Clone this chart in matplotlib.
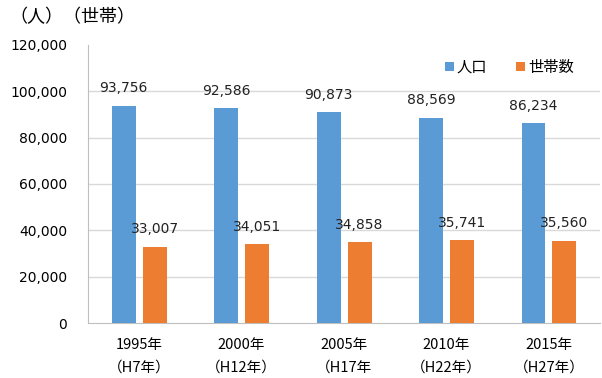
import numpy as np
import matplotlib
matplotlib.use("Agg")
import matplotlib.pyplot as plt

plt.rcParams['font.family'] = ['DejaVu Sans', 'Noto Sans CJK JP']
cjk = ['Noto Sans CJK JP', 'DejaVu Sans']

years = ["1995年\n（H7年）", "2000年\n（H12年）", "2005年\n（H17年", "2010年\n（H22年）", "2015年\n（H27年）"]
population = [93756, 92586, 90873, 88569, 86234]
households = [33007, 34051, 34858, 35741, 35560]

blue = "#5B9BD5"
orange = "#ED7D31"

fig = plt.figure(figsize=(6.02, 3.78), dpi=100)
ax = fig.add_axes([0.146, 0.1455, 0.851, 0.7355])

x = np.arange(len(years))
w = 0.234
off = 0.151

b1 = ax.bar(x - off, population, w, color=blue, label="人口", zorder=3)
b2 = ax.bar(x + off, households, w, color=orange, label="世帯数", zorder=3)

for bars in (b1, b2):
    for rect in bars:
        v = rect.get_height()
        ax.annotate(f"{v:,}", (rect.get_x() + rect.get_width() / 2, v),
                    xytext=(0, 7.5), textcoords="offset points",
                    ha="center", va="bottom", fontsize=10, color="#222222")

ax.set_xlim(-0.5, len(years) - 0.5)
ax.set_ylim(0, 120000)
ax.set_yticks(range(0, 120001, 20000))
ax.set_yticklabels([f"{t:,}" for t in range(0, 120001, 20000)], fontsize=10)
ax.set_xticks(x)
ax.set_xticklabels(years, fontsize=10.5, linespacing=1.75, family=cjk)
ax.tick_params(length=0)
ax.tick_params(axis="y", pad=15)
ax.tick_params(axis="x", pad=11)

# horizontal grid, skipping the top line
for t in range(20000, 120000, 20000):
    ax.axhline(t, color="#d9d9d9", linewidth=1, zorder=0)

for s in ("top", "right"):
    ax.spines[s].set_visible(False)
ax.spines["left"].set_color("#bfbfbf")
ax.spines["bottom"].set_color("#bfbfbf")

ax.legend(loc="upper right", bbox_to_anchor=(0.975, 1.0), ncol=2, frameon=False,
          handlelength=0.55, handleheight=0.55, handletextpad=0.2,
          columnspacing=1.9, prop={'family': cjk, 'size': 11})

fig.text(0.015, 0.955, "（人）（世帯）", fontsize=13, va="center", ha="left", family=cjk)

fig.savefig("out.png", dpi=100)
